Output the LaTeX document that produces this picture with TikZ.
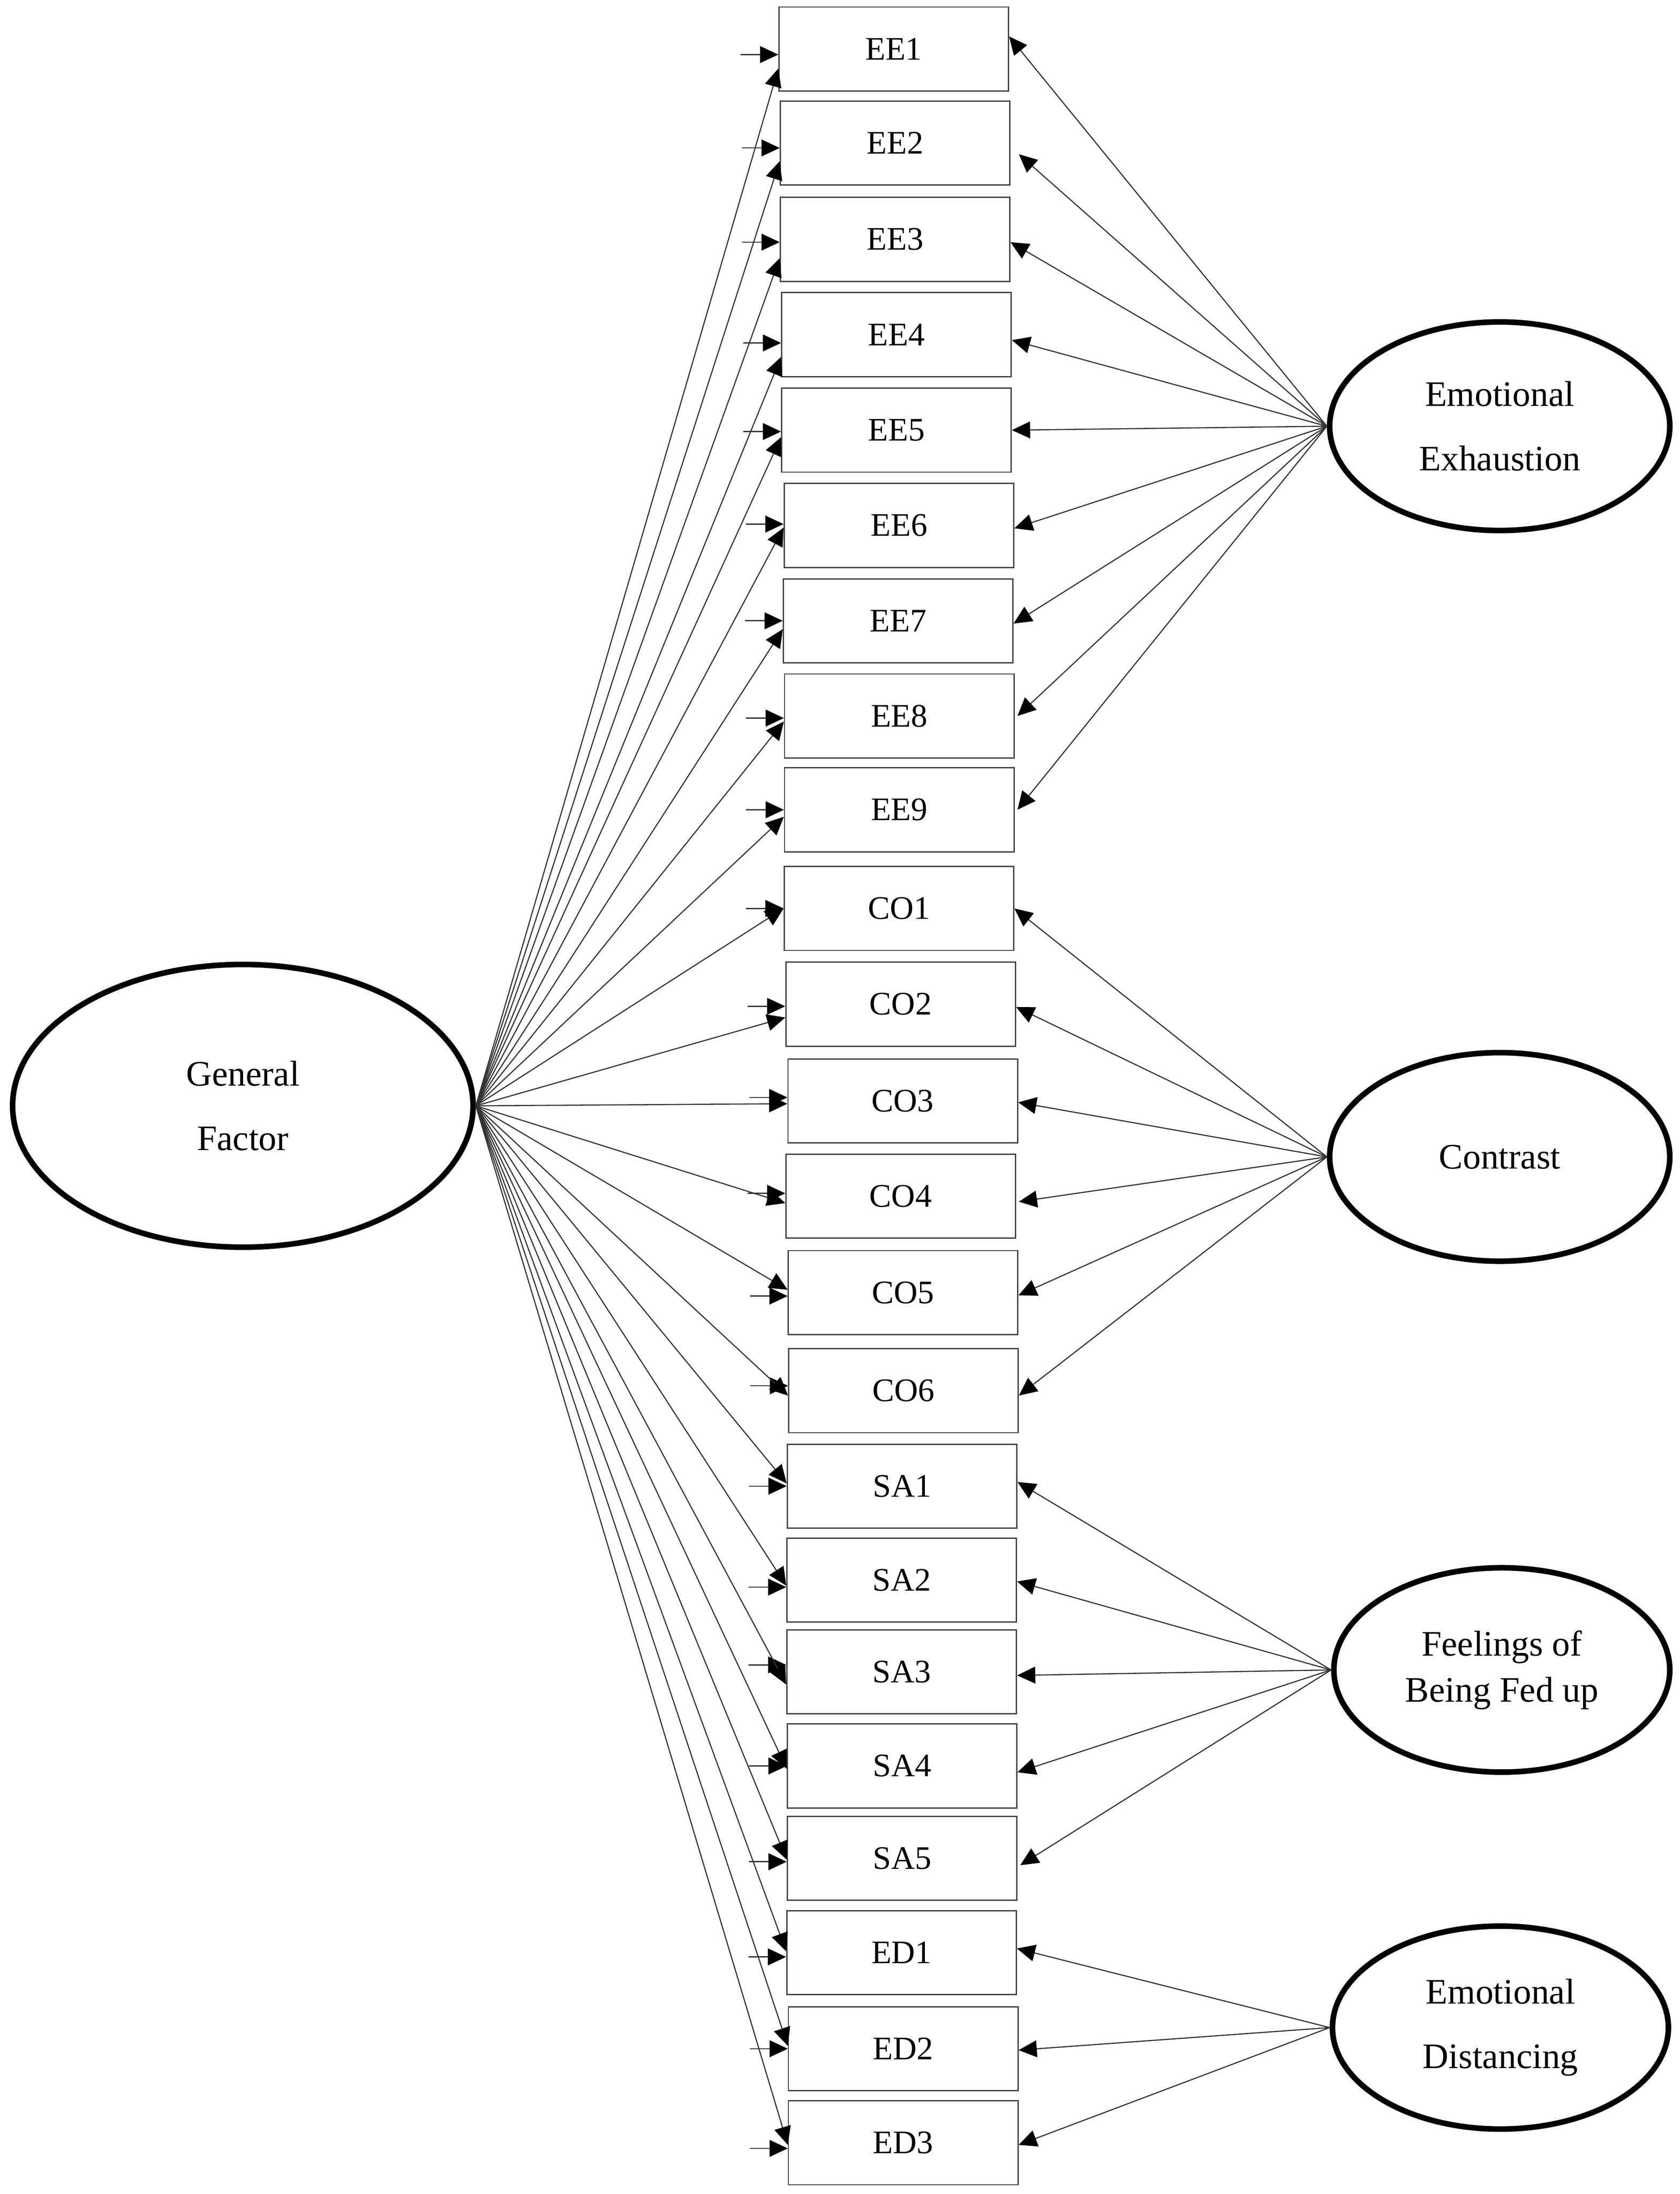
\documentclass[tikz,border=0pt]{standalone}
\usepackage{fontspec}
\setmainfont{Liberation Serif}
\usetikzlibrary{shapes.geometric,arrows.meta}

\begin{document}
\begin{tikzpicture}[x=1pt, y=-1pt,
  item/.style={rectangle, draw=black!75, line width=0.9pt, minimum width=164pt, minimum height=60pt, inner sep=0pt, font=\fontsize{23.5pt}{27pt}\selectfont},
  factor/.style={ellipse, draw=black, line width=4pt, inner sep=0pt, align=center, font=\fontsize{25.6pt}{46pt}\selectfont},
  load/.style={draw=black!80, line width=0.8pt, -{Triangle[length=13pt,width=12pt,color=black]}},
  resid/.style={draw=black!80, line width=0.8pt, -{Triangle[length=13pt,width=12pt,color=black]}}]
  \useasboundingbox (0,0) rectangle (1200,1567.4);
  \node[factor, minimum width=329pt, minimum height=202pt] (General) at (173.5,790) {General\\Factor};
  \node[factor, minimum width=243pt, minimum height=149pt] (EmoExh) at (1071.5,304.5) {Emotional\\Exhaustion};
  \node[factor, minimum width=243pt, minimum height=149pt] (Contrast) at (1071.5,826.5) {Contrast};
  \node[factor, minimum width=240pt, minimum height=146pt, font=\fontsize{25.6pt}{33pt}\selectfont] (FedUp) at (1073,1193) {Feelings of\\Being Fed up};
  \node[factor, minimum width=240pt, minimum height=145pt] (EmoDist) at (1072,1448.5) {Emotional\\Distancing};
  \node[item] (EE1) at (638.5,35) {EE1};
  \node[item] (EE2) at (639.5,102.2) {EE2};
  \node[item] (EE3) at (639.5,171) {EE3};
  \node[item] (EE4) at (640.5,239) {EE4};
  \node[item] (EE5) at (640.5,307.3) {EE5};
  \node[item] (EE6) at (642.3,375.4) {EE6};
  \node[item] (EE7) at (641.7,443.5) {EE7};
  \node[item] (EE8) at (642.5,511.5) {EE8};
  \node[item] (EE9) at (642.5,578.5) {EE9};
  \node[item] (CO1) at (642.3,649) {CO1};
  \node[item] (CO2) at (643.5,717.4) {CO2};
  \node[item] (CO3) at (645,786.5) {CO3};
  \node[item] (CO4) at (643.5,854.5) {CO4};
  \node[item] (CO5) at (645.2,923.4) {CO5};
  \node[item] (CO6) at (645.5,993.5) {CO6};
  \node[item] (SA1) at (644.5,1061.7) {SA1};
  \node[item] (SA2) at (644.2,1128.8) {SA2};
  \node[item] (SA3) at (644.2,1194.4) {SA3};
  \node[item] (SA4) at (644.5,1261.6) {SA4};
  \node[item] (SA5) at (644.5,1327.5) {SA5};
  \node[item] (ED1) at (644.1,1395) {ED1};
  \node[item] (ED2) at (645.3,1463.6) {ED2};
  \node[item] (ED3) at (645.3,1530.8) {ED3};
  \draw[resid] ([xshift=-27pt,yshift=-4pt]EE1.west) -- ([yshift=-4pt]EE1.west);
  \draw[resid] ([xshift=-27pt,yshift=-3.5pt]EE2.west) -- ([yshift=-3.5pt]EE2.west);
  \draw[resid] ([xshift=-27pt,yshift=-2pt]EE3.west) -- ([yshift=-2pt]EE3.west);
  \draw[resid] ([xshift=-27pt,yshift=-6pt]EE4.west) -- ([yshift=-6pt]EE4.west);
  \draw[resid] ([xshift=-27pt,yshift=-1pt]EE5.west) -- ([yshift=-1pt]EE5.west);
  \draw[resid] ([xshift=-27pt,yshift=1pt]EE6.west) -- ([yshift=1pt]EE6.west);
  \draw[resid] ([xshift=-27pt]EE7.west) -- (EE7.west);
  \draw[resid] ([xshift=-27pt,yshift=-1.5pt]EE8.west) -- ([yshift=-1.5pt]EE8.west);
  \draw[resid] ([xshift=-27pt]EE9.west) -- (EE9.west);
  \draw[resid] ([xshift=-27pt]CO1.west) -- (CO1.west);
  \draw[resid] ([xshift=-27pt,yshift=-1.5pt]CO2.west) -- ([yshift=-1.5pt]CO2.west);
  \draw[resid] ([xshift=-27pt,yshift=2.5pt]CO3.west) -- ([yshift=2.5pt]CO3.west);
  \draw[resid] ([xshift=-27pt,yshift=2pt]CO4.west) -- ([yshift=2pt]CO4.west);
  \draw[resid] ([xshift=-27pt,yshift=-2.5pt]CO5.west) -- ([yshift=-2.5pt]CO5.west);
  \draw[resid] ([xshift=-27pt,yshift=3.5pt]CO6.west) -- ([yshift=3.5pt]CO6.west);
  \draw[resid] ([xshift=-27pt]SA1.west) -- (SA1.west);
  \draw[resid] ([xshift=-27pt,yshift=-5pt]SA2.west) -- ([yshift=-5pt]SA2.west);
  \draw[resid] ([xshift=-27pt,yshift=5pt]SA3.west) -- ([yshift=5pt]SA3.west);
  \draw[resid] ([xshift=-27pt]SA4.west) -- (SA4.west);
  \draw[resid] ([xshift=-27pt,yshift=-2.5pt]SA5.west) -- ([yshift=-2.5pt]SA5.west);
  \draw[resid] ([xshift=-27pt,yshift=-3pt]ED1.west) -- ([yshift=-3pt]ED1.west);
  \draw[resid] ([xshift=-27pt]ED2.west) -- (ED2.west);
  \draw[resid] ([xshift=-27pt,yshift=-4pt]ED3.west) -- ([yshift=-4pt]ED3.west);
  \draw[load] (General.east) -- ([yshift=-14pt]EE1.west);
  \draw[load] (General.east) -- ([yshift=-13pt]EE2.west);
  \draw[load] (General.east) -- ([yshift=-13.5pt]EE3.west);
  \draw[load] (General.east) -- ([yshift=-16pt]EE4.west);
  \draw[load] (General.east) -- ([yshift=-5pt]EE5.west);
  \draw[load] (General.east) -- ([yshift=-1.5pt]EE6.west);
  \draw[load] (General.east) -- ([yshift=-6pt]EE7.west);
  \draw[load] (General.east) -- ([yshift=-4pt]EE8.west);
  \draw[load] (General.east) -- ([yshift=-5pt]EE9.west);
  \draw[load] (General.east) -- (CO1.west);
  \draw[load] (General.east) -- ([yshift=-9.5pt]CO2.west);
  \draw[load] (General.east) -- ([yshift=-2pt]CO3.west);
  \draw[load] (General.east) -- ([yshift=-5pt]CO4.west);
  \draw[load] (General.east) -- ([yshift=2pt]CO5.west);
  \draw[load] (General.east) -- ([yshift=-3.5pt]CO6.west);
  \draw[load] (General.east) -- ([yshift=2pt]SA1.west);
  \draw[load] (General.east) -- ([yshift=-4pt]SA2.west);
  \draw[load] (General.east) -- ([yshift=-9pt]SA3.west);
  \draw[load] (General.east) -- ([yshift=-2pt]SA4.west);
  \draw[load] (General.east) -- ([yshift=-1pt]SA5.west);
  \draw[load] (General.east) -- ([yshift=1pt]ED1.west);
  \draw[load] (General.east) -- ([yshift=2pt]ED2.west);
  \draw[load] (General.east) -- ([yshift=-1.5pt]ED3.west);
  \draw[load] (EmoExh.west) -- ([yshift=9pt]EE1.east);
  \draw[load] (EmoExh.west) -- ([xshift=6pt,yshift=-8pt]EE2.east);
  \draw[load] (EmoExh.west) -- ([yshift=-2pt]EE3.east);
  \draw[load] (EmoExh.west) -- ([yshift=-4pt]EE4.east);
  \draw[load] (EmoExh.west) -- (EE5.east);
  \draw[load] (EmoExh.west) -- ([yshift=-2pt]EE6.east);
  \draw[load] (EmoExh.west) -- ([yshift=-2pt]EE7.east);
  \draw[load] (EmoExh.west) -- ([xshift=2pt]EE8.east);
  \draw[load] (EmoExh.west) -- ([xshift=2pt]EE9.east);
  \draw[load] (Contrast.west) -- (CO1.east);
  \draw[load] (Contrast.west) -- ([yshift=-2pt]CO2.east);
  \draw[load] (Contrast.west) -- ([yshift=-1pt]CO3.east);
  \draw[load] (Contrast.west) -- ([xshift=2pt,yshift=-4pt]CO4.east);
  \draw[load] (Contrast.west) -- ([yshift=-2pt]CO5.east);
  \draw[load] (Contrast.west) -- ([yshift=-3.5pt]CO6.east);
  \draw[load] (FedUp.west) -- ([yshift=3pt]SA1.east);
  \draw[load] (FedUp.west) -- ([yshift=-1pt]SA2.east);
  \draw[load] (FedUp.west) -- ([yshift=-2.5pt]SA3.east);
  \draw[load] (FedUp.west) -- ([yshift=-4.5pt]SA4.east);
  \draw[load] (FedUp.west) -- ([xshift=2pt,yshift=-5pt]SA5.east);
  \draw[load] (EmoDist.west) -- ([yshift=3pt]ED1.east);
  \draw[load] (EmoDist.west) -- ([yshift=-1pt]ED2.east);
  \draw[load] (EmoDist.west) -- ([yshift=-1.5pt]ED3.east);
\end{tikzpicture}
\end{document}
